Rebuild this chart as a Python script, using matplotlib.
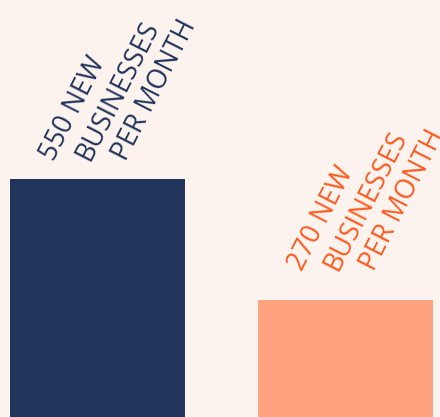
import numpy as np
import matplotlib.pyplot as plt

# data
categories = ["A", "B"]
values = [550, 270]
label_lines = [["550 NEW", "BUSINESSES", "PER MONTH"],
               ["270 NEW", "BUSINESSES", "PER MONTH"]]

bar_colors = ["#20345c", "#ffa27f"]
text_colors = ["#20345c", "#ff5a1f"]
bg = "#fdf3ee"

# label placement (points, relative to top-left corner of each bar)
line_dx = [32.0, 57.5, 83.5]
label_dy = [12.3, 20.5]

fig = plt.figure(figsize=(4.4, 4.17), dpi=100)
fig.patch.set_facecolor(bg)
ax = fig.add_axes([0, 0, 1, 1])
ax.set_facecolor(bg)

width = 0.706
x = np.arange(len(categories))
ax.bar(x, values, width=width, color=bar_colors, linewidth=0)

# each line is its own rotated text, starting along the same horizontal
for i in range(len(values)):
    for j, line in enumerate(label_lines[i]):
        ax.annotate(line, xy=(x[i] - width / 2, values[i]),
                    xytext=(line_dx[j], label_dy[i]), textcoords='offset points',
                    rotation=63, rotation_mode='anchor',
                    ha='left', va='baseline',
                    fontsize=19.3, family='Open Sans', color=text_colors[i])

ax.set_xlim(-0.393, 1.381)
ax.set_ylim(0, 963.7)
ax.axis('off')

plt.savefig('out.png', dpi=100, facecolor=bg)
